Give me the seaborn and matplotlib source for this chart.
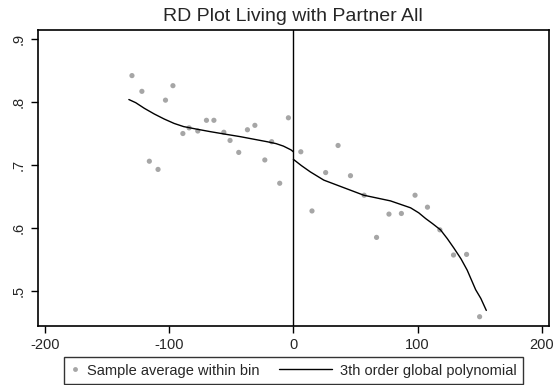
import numpy as np
import pandas as pd
import matplotlib
matplotlib.use("Agg")
import matplotlib.pyplot as plt
from matplotlib.legend_handler import HandlerLine2D
from matplotlib.lines import Line2D
import seaborn as sns

# bin averages, left and right of the cutoff
bin_x_left = [-130, -122, -116, -109, -103, -97, -89, -84, -77, -70,
              -64, -56, -51, -44, -37, -31, -23, -17.5, -11, -4]
bin_y_left = [0.842, 0.817, 0.706, 0.693, 0.803, 0.826, 0.750, 0.759, 0.754, 0.771,
              0.771, 0.752, 0.739, 0.720, 0.756, 0.763, 0.708, 0.737, 0.671, 0.775]
bin_x_right = [6, 15, 26, 36, 46, 57, 67, 77, 87, 98, 108, 118, 129, 139.5, 150]
bin_y_right = [0.721, 0.627, 0.688, 0.731, 0.683, 0.652, 0.585, 0.622, 0.623, 0.652,
               0.633, 0.597, 0.557, 0.558, 0.459]

# fitted polynomial, points
fit_x_left = [-132.5, -127, -120, -112, -104, -96, -88.4, -78, -67, -55, -42.7, -32, -21.2, -14, -8, -1.9, 0]
fit_y_left = [0.804, 0.799, 0.790, 0.781, 0.773, 0.766, 0.761, 0.757, 0.753, 0.749, 0.745, 0.741,
              0.737, 0.734, 0.730, 0.724, 0.721]
fit_x_right = [0, 6.5, 13.7, 24.5, 37.9, 56.7, 78.2, 94.4, 101, 106.5, 112, 118.5,
               124, 129.3, 135, 140, 146.8, 151, 155.4]
fit_y_right = [0.709, 0.699, 0.689, 0.676, 0.666, 0.652, 0.643, 0.632, 0.624, 0.615, 0.607, 0.597,
               0.583, 0.568, 0.551, 0.533, 0.502, 0.488, 0.469]

x_ticks = [-200, -100, 0, 100, 200]
y_ticks = [0.5, 0.6, 0.7, 0.8, 0.9]
y_tick_labels = [".5", ".6", ".7", ".8", ".9"]


class ShortHandler(HandlerLine2D):
    # marker-only entry: narrow handle box so the text sits close to the dot
    def legend_artist(self, legend, orig_handle, fontsize, handlebox):
        handlebox.width = 0.55 * fontsize
        return super().legend_artist(legend, orig_handle, fontsize, handlebox)


sns.set_style("ticks")
plt.rcParams["font.family"] = ["Liberation Sans", "DejaVu Sans"]
plt.rcParams["axes.unicode_minus"] = False

bins = pd.DataFrame({"x": bin_x_left + bin_x_right, "y": bin_y_left + bin_y_right})
fit_l = pd.DataFrame({"x": fit_x_left, "y": fit_y_left})
fit_r = pd.DataFrame({"x": fit_x_right, "y": fit_y_right})

fig = plt.figure(figsize=(5.53, 3.85), dpi=100)
ax = fig.add_axes([0.068, 0.152, 0.925, 0.771])

sns.scatterplot(data=bins, x="x", y="y", ax=ax, color="#a6a6a6", s=14,
                edgecolor="none", legend=False)
sns.lineplot(data=fit_l, x="x", y="y", ax=ax, color="black", lw=1.0,
             sort=False, estimator=None, legend=False)
sns.lineplot(data=fit_r, x="x", y="y", ax=ax, color="black", lw=1.0,
             sort=False, estimator=None, legend=False)
ax.axvline(0, color="black", lw=1.0)

ax.set_xlim(-206, 206)
ax.set_ylim(0.4435, 0.915)
ax.set_xticks(x_ticks)
ax.set_yticks(y_ticks)
ax.set_yticklabels(y_tick_labels, rotation=90, va="center")
ax.tick_params(axis="both", labelsize=10.5, length=5, width=1.0, color="black")
ax.set_xlabel("")
ax.set_ylabel("")
for sp in ax.spines.values():
    sp.set_visible(True)
    sp.set_linewidth(1.2)
    sp.set_color("black")

ax.set_title("RD Plot Living with Partner All", fontsize=14, pad=6)

dot = Line2D([], [], ls="none", marker="o", ms=3.5, color="#a6a6a6", mec="none")
line = Line2D([], [], color="black", lw=1.0)
leg = fig.legend([dot, line], ["Sample average within bin", "3th order global polynomial"],
                 loc="upper center", bbox_to_anchor=(0.531, 1 - 357 / 385),
                 ncol=2, frameon=True, fancybox=False, fontsize=10.5,
                 handlelength=3.6, columnspacing=1.4, borderpad=0.45, handletextpad=0.55,
                 borderaxespad=0, handler_map={dot: ShortHandler(numpoints=1)})
leg.get_frame().set_edgecolor("black")
leg.get_frame().set_linewidth(1.0)

fig.savefig("out.png", dpi=100)
